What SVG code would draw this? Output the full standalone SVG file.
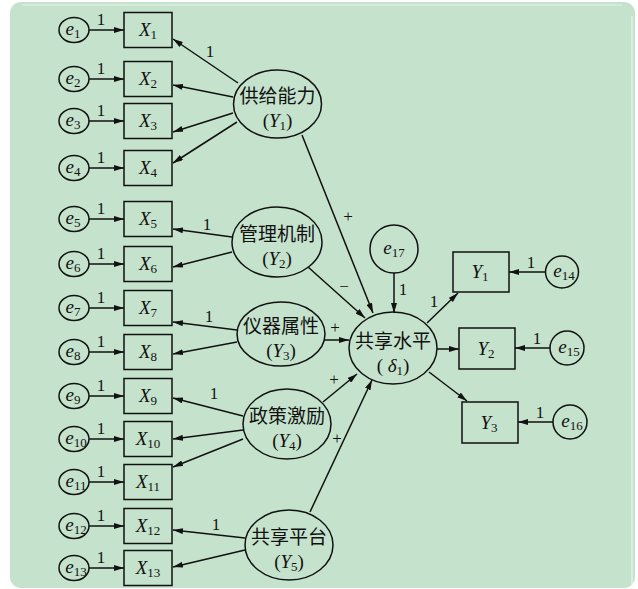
<svg xmlns="http://www.w3.org/2000/svg" width="638" height="589" viewBox="0 0 638 589">
<defs>
<marker id="ah" viewBox="0 0 10 6" refX="10" refY="3" markerWidth="10" markerHeight="6" markerUnits="userSpaceOnUse" orient="auto">
<path d="M0,0 L10,3 L0,6 Z" fill="#111"/>
</marker>
</defs>
<style>
.bg{fill:#c5e2cc}
.sh{fill:none;stroke:#111;stroke-width:1.5}
.cn line{stroke:#111;stroke-width:1.5;marker-end:url(#ah)}
text{font-family:"Liberation Serif","Noto Sans CJK SC",serif;fill:#111}
.lv{font-size:19px;font-style:italic}
.sub{font-size:13px;font-style:normal}
.cj{font-size:19px}
.one{font-size:17px}
.sg{font-size:17px}
</style>
<rect x="0" y="0" width="638" height="589" fill="#fff"/>
<rect class="bg" x="10" y="2" width="625" height="586" rx="11"/>
<line x1="22" y1="5" x2="622" y2="5" stroke="#e6f2e8" stroke-width="1"/>
<line x1="632" y1="16" x2="632" y2="588" stroke="#f2f8f3" stroke-width="1"/>

<g id="connectors" class="cn">
<line x1="89" y1="30" x2="124" y2="30"/>
<line x1="89" y1="79" x2="124" y2="79"/>
<line x1="89" y1="121" x2="124" y2="121"/>
<line x1="89" y1="168" x2="124" y2="168"/>
<line x1="89" y1="219" x2="124" y2="219"/>
<line x1="89" y1="264" x2="124" y2="264"/>
<line x1="89" y1="308" x2="124" y2="308"/>
<line x1="89" y1="352" x2="124" y2="352"/>
<line x1="89" y1="396" x2="124" y2="396"/>
<line x1="89" y1="439" x2="124" y2="439"/>
<line x1="89" y1="482" x2="124" y2="482"/>
<line x1="89" y1="526" x2="124" y2="526"/>
<line x1="89" y1="568" x2="124" y2="568"/>
<line x1="238" y1="83" x2="173" y2="39"/>
<line x1="233" y1="97" x2="173" y2="85"/>
<line x1="233" y1="113" x2="173" y2="132"/>
<line x1="237" y1="122" x2="173" y2="163"/>
<line x1="232" y1="237" x2="173" y2="229"/>
<line x1="232" y1="252" x2="173" y2="267"/>
<line x1="237" y1="330" x2="173" y2="322"/>
<line x1="237" y1="342" x2="173" y2="354"/>
<line x1="243" y1="416" x2="173" y2="398"/>
<line x1="243" y1="430" x2="173" y2="439"/>
<line x1="243" y1="439" x2="173" y2="467"/>
<line x1="245" y1="538" x2="173" y2="530"/>
<line x1="245" y1="550" x2="173" y2="567"/>
<line x1="302" y1="135" x2="373" y2="313"/>
<line x1="308" y1="267" x2="365" y2="318"/>
<line x1="325" y1="340" x2="349" y2="340"/>
<line x1="323" y1="402" x2="357" y2="374"/>
<line x1="310" y1="512" x2="372" y2="380"/>
<line x1="394" y1="273" x2="394" y2="313"/>
<line x1="427" y1="323" x2="458" y2="293"/>
<line x1="437" y1="349" x2="459" y2="349"/>
<line x1="429" y1="372" x2="467" y2="401"/>
<line x1="545" y1="272" x2="509" y2="272"/>
<line x1="550" y1="348" x2="515" y2="348"/>
<line x1="553" y1="422" x2="518" y2="422"/>
</g>

<g id="weights">
<text class="one" x="101" y="25" text-anchor="middle">1</text>
<text class="one" x="101" y="74" text-anchor="middle">1</text>
<text class="one" x="101" y="116" text-anchor="middle">1</text>
<text class="one" x="101" y="163" text-anchor="middle">1</text>
<text class="one" x="101" y="214" text-anchor="middle">1</text>
<text class="one" x="101" y="259" text-anchor="middle">1</text>
<text class="one" x="101" y="303" text-anchor="middle">1</text>
<text class="one" x="101" y="347" text-anchor="middle">1</text>
<text class="one" x="101" y="391" text-anchor="middle">1</text>
<text class="one" x="101" y="434" text-anchor="middle">1</text>
<text class="one" x="101" y="477" text-anchor="middle">1</text>
<text class="one" x="101" y="521" text-anchor="middle">1</text>
<text class="one" x="101" y="563" text-anchor="middle">1</text>
<text class="one" x="210" y="57" text-anchor="middle">1</text>
<text class="one" x="207" y="230" text-anchor="middle">1</text>
<text class="one" x="209" y="322" text-anchor="middle">1</text>
<text class="one" x="214" y="399" text-anchor="middle">1</text>
<text class="one" x="216" y="530" text-anchor="middle">1</text>
<text class="one" x="403" y="295" text-anchor="middle">1</text>
<text class="one" x="434" y="307" text-anchor="middle">1</text>
<text class="one" x="531" y="268" text-anchor="middle">1</text>
<text class="one" x="537" y="344" text-anchor="middle">1</text>
<text class="one" x="540" y="418" text-anchor="middle">1</text>
<text class="sg" x="348" y="222" text-anchor="middle">+</text>
<text class="sg" x="344" y="292" text-anchor="middle">−</text>
<text class="sg" x="335" y="333" text-anchor="middle">+</text>
<text class="sg" x="334" y="385" text-anchor="middle">+</text>
<text class="sg" x="337" y="444" text-anchor="middle">+</text>
</g>

<g id="e1"><ellipse class="sh" cx="74" cy="30" rx="15" ry="12.5"/><text class="lv" x="73" y="35" text-anchor="middle">e<tspan class="sub" dy="3">1</tspan></text></g>
<g id="e2"><ellipse class="sh" cx="74" cy="79" rx="15" ry="12.5"/><text class="lv" x="73" y="84" text-anchor="middle">e<tspan class="sub" dy="3">2</tspan></text></g>
<g id="e3"><ellipse class="sh" cx="74" cy="121" rx="15" ry="12.5"/><text class="lv" x="73" y="126" text-anchor="middle">e<tspan class="sub" dy="3">3</tspan></text></g>
<g id="e4"><ellipse class="sh" cx="74" cy="168" rx="15" ry="12.5"/><text class="lv" x="73" y="173" text-anchor="middle">e<tspan class="sub" dy="3">4</tspan></text></g>
<g id="e5"><ellipse class="sh" cx="74" cy="219" rx="15" ry="12.5"/><text class="lv" x="73" y="224" text-anchor="middle">e<tspan class="sub" dy="3">5</tspan></text></g>
<g id="e6"><ellipse class="sh" cx="74" cy="264" rx="15" ry="12.5"/><text class="lv" x="73" y="269" text-anchor="middle">e<tspan class="sub" dy="3">6</tspan></text></g>
<g id="e7"><ellipse class="sh" cx="74" cy="308" rx="15" ry="12.5"/><text class="lv" x="73" y="313" text-anchor="middle">e<tspan class="sub" dy="3">7</tspan></text></g>
<g id="e8"><ellipse class="sh" cx="74" cy="352" rx="15" ry="12.5"/><text class="lv" x="73" y="357" text-anchor="middle">e<tspan class="sub" dy="3">8</tspan></text></g>
<g id="e9"><ellipse class="sh" cx="74" cy="396" rx="15" ry="12.5"/><text class="lv" x="73" y="401" text-anchor="middle">e<tspan class="sub" dy="3">9</tspan></text></g>
<g id="e10"><ellipse class="sh" cx="74" cy="439" rx="15" ry="12.5"/><text class="lv" x="76" y="444" text-anchor="middle">e<tspan class="sub" dy="3">10</tspan></text></g>
<g id="e11"><ellipse class="sh" cx="74" cy="482" rx="15" ry="12.5"/><text class="lv" x="76" y="487" text-anchor="middle">e<tspan class="sub" dy="3">11</tspan></text></g>
<g id="e12"><ellipse class="sh" cx="74" cy="526" rx="15" ry="12.5"/><text class="lv" x="76" y="531" text-anchor="middle">e<tspan class="sub" dy="3">12</tspan></text></g>
<g id="e13"><ellipse class="sh" cx="74" cy="568" rx="15" ry="12.5"/><text class="lv" x="76" y="573" text-anchor="middle">e<tspan class="sub" dy="3">13</tspan></text></g>

<g id="X1"><rect class="sh" x="124" y="12.5" width="48" height="35"/><text class="lv" x="148" y="36" text-anchor="middle">X<tspan class="sub" dy="3">1</tspan></text></g>
<g id="X2"><rect class="sh" x="124" y="61.5" width="48" height="35"/><text class="lv" x="148" y="85" text-anchor="middle">X<tspan class="sub" dy="3">2</tspan></text></g>
<g id="X3"><rect class="sh" x="124" y="103.5" width="48" height="35"/><text class="lv" x="148" y="127" text-anchor="middle">X<tspan class="sub" dy="3">3</tspan></text></g>
<g id="X4"><rect class="sh" x="124" y="150.5" width="48" height="35"/><text class="lv" x="148" y="174" text-anchor="middle">X<tspan class="sub" dy="3">4</tspan></text></g>
<g id="X5"><rect class="sh" x="124" y="201.5" width="48" height="35"/><text class="lv" x="148" y="225" text-anchor="middle">X<tspan class="sub" dy="3">5</tspan></text></g>
<g id="X6"><rect class="sh" x="124" y="246.5" width="48" height="35"/><text class="lv" x="148" y="270" text-anchor="middle">X<tspan class="sub" dy="3">6</tspan></text></g>
<g id="X7"><rect class="sh" x="124" y="290.5" width="48" height="35"/><text class="lv" x="148" y="314" text-anchor="middle">X<tspan class="sub" dy="3">7</tspan></text></g>
<g id="X8"><rect class="sh" x="124" y="334.5" width="48" height="35"/><text class="lv" x="148" y="358" text-anchor="middle">X<tspan class="sub" dy="3">8</tspan></text></g>
<g id="X9"><rect class="sh" x="124" y="378.5" width="48" height="35"/><text class="lv" x="148" y="402" text-anchor="middle">X<tspan class="sub" dy="3">9</tspan></text></g>
<g id="X10"><rect class="sh" x="124" y="421.5" width="48" height="35"/><text class="lv" x="148" y="445" text-anchor="middle">X<tspan class="sub" dy="3">10</tspan></text></g>
<g id="X11"><rect class="sh" x="124" y="464.5" width="48" height="35"/><text class="lv" x="148" y="488" text-anchor="middle">X<tspan class="sub" dy="3">11</tspan></text></g>
<g id="X12"><rect class="sh" x="124" y="508.5" width="48" height="35"/><text class="lv" x="148" y="532" text-anchor="middle">X<tspan class="sub" dy="3">12</tspan></text></g>
<g id="X13"><rect class="sh" x="124" y="550.5" width="48" height="35"/><text class="lv" x="148" y="574" text-anchor="middle">X<tspan class="sub" dy="3">13</tspan></text></g>

<g id="Y1latent"><ellipse class="sh" cx="277.5" cy="104" rx="44" ry="34"/><text class="cj" x="277.5" y="103" text-anchor="middle">供给能力</text><text class="lv" x="277.5" y="127" text-anchor="middle"><tspan font-style="normal">(</tspan>Y<tspan class="sub" dy="3">1</tspan><tspan font-style="normal" dy="-3">)</tspan></text></g>
<g id="Y2latent"><ellipse class="sh" cx="277" cy="242" rx="45" ry="35"/><text class="cj" x="277" y="241" text-anchor="middle">管理机制</text><text class="lv" x="277" y="265" text-anchor="middle"><tspan font-style="normal">(</tspan>Y<tspan class="sub" dy="3">2</tspan><tspan font-style="normal" dy="-3">)</tspan></text></g>
<g id="Y3latent"><ellipse class="sh" cx="281" cy="334" rx="44" ry="32"/><text class="cj" x="281" y="333" text-anchor="middle">仪器属性</text><text class="lv" x="281" y="357" text-anchor="middle"><tspan font-style="normal">(</tspan>Y<tspan class="sub" dy="3">3</tspan><tspan font-style="normal" dy="-3">)</tspan></text></g>
<g id="Y4latent"><ellipse class="sh" cx="287" cy="424" rx="44" ry="35"/><text class="cj" x="287" y="423" text-anchor="middle">政策激励</text><text class="lv" x="287" y="447" text-anchor="middle"><tspan font-style="normal">(</tspan>Y<tspan class="sub" dy="3">4</tspan><tspan font-style="normal" dy="-3">)</tspan></text></g>
<g id="Y5latent"><ellipse class="sh" cx="289" cy="545" rx="44" ry="35"/><text class="cj" x="289" y="544" text-anchor="middle">共享平台</text><text class="lv" x="289" y="568" text-anchor="middle"><tspan font-style="normal">(</tspan>Y<tspan class="sub" dy="3">5</tspan><tspan font-style="normal" dy="-3">)</tspan></text></g>
<g id="delta1"><ellipse class="sh" cx="393" cy="348" rx="44" ry="36"/><text class="cj" x="393" y="348" text-anchor="middle">共享水平</text><text class="lv" x="393" y="372" text-anchor="middle"><tspan font-style="normal">( </tspan>δ<tspan class="sub" dy="3">1</tspan><tspan font-style="normal" dy="-3">)</tspan></text></g>
<g id="e17"><ellipse class="sh" cx="394" cy="249" rx="24" ry="24"/><text class="lv" x="394" y="254" text-anchor="middle">e<tspan class="sub" dy="3">17</tspan></text></g>

<g id="Y1"><rect class="sh" x="453" y="252" width="56" height="40"/><text class="lv" x="480" y="278" text-anchor="middle">Y<tspan class="sub" dy="3">1</tspan></text></g>
<g id="Y2"><rect class="sh" x="459" y="328" width="56" height="41"/><text class="lv" x="486" y="355" text-anchor="middle">Y<tspan class="sub" dy="3">2</tspan></text></g>
<g id="Y3"><rect class="sh" x="462" y="402" width="56" height="41"/><text class="lv" x="489" y="429" text-anchor="middle">Y<tspan class="sub" dy="3">3</tspan></text></g>
<g id="e14"><ellipse class="sh" cx="562" cy="272" rx="16.5" ry="16"/><text class="lv" x="564" y="277" text-anchor="middle">e<tspan class="sub" dy="3">14</tspan></text></g>
<g id="e15"><ellipse class="sh" cx="567" cy="348" rx="17" ry="17"/><text class="lv" x="569" y="353" text-anchor="middle">e<tspan class="sub" dy="3">15</tspan></text></g>
<g id="e16"><ellipse class="sh" cx="570" cy="422" rx="17" ry="17"/><text class="lv" x="572" y="427" text-anchor="middle">e<tspan class="sub" dy="3">16</tspan></text></g>
</svg>
